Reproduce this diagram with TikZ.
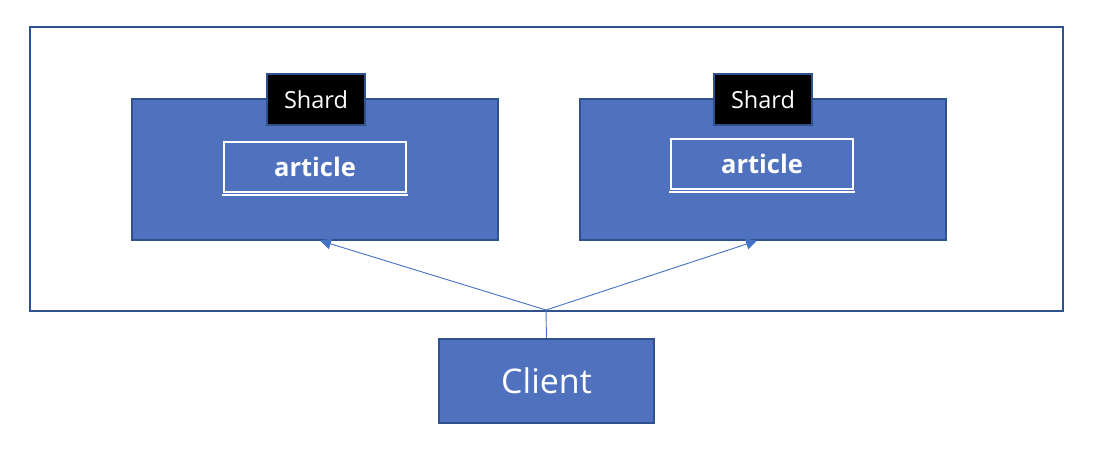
\documentclass[tikz,border=0pt]{standalone}
\usepackage{fontspec}
\setmainfont{Open Sans}
\usetikzlibrary{arrows.meta}
\definecolor{boxblue}{HTML}{4F71BE}
\definecolor{edgeblue}{HTML}{2F528F}
\definecolor{lineblue}{HTML}{4472C4}
\tikzset{
  shardbox/.style={draw=edgeblue, line width=1.2pt, fill=boxblue, minimum width=366pt, minimum height=141pt, inner sep=0pt},
  labelbox/.style={draw=edgeblue, line width=1.2pt, fill=black, text=white, minimum width=98pt, minimum height=51pt, inner sep=0pt, font=\fontsize{23.5}{28}\selectfont},
  artbox/.style={draw=white, line width=2pt, fill=boxblue, text=white, minimum width=182pt, minimum height=50pt, inner sep=0pt, font=\bfseries\fontsize{25.5}{30}\selectfont},
  clientbox/.style={draw=edgeblue, line width=1.2pt, fill=boxblue, text=white, minimum width=215pt, minimum height=84pt, inner sep=0pt, font=\fontsize{34}{40}\selectfont},
  conn/.style={draw=lineblue, line width=0.9pt},
  arr/.style={conn, -{Triangle[length=11pt,width=11pt]}},
}
\begin{document}
\begin{tikzpicture}[x=1pt,y=-1pt]
\useasboundingbox (0,0) rectangle (1096,448);
\node[draw=edgeblue, line width=1.8pt, minimum width=1033pt, minimum height=284pt, inner sep=0pt] (outer) at (546.5,169) {};
\node[shardbox] (s1) at (315,169.5) {};
\node[shardbox] (s2) at (763,169.5) {};
\node[labelbox] (l1) at (316,99.5) {Shard};
\node[labelbox] (l2) at (763,99.5) {Shard};
\node[artbox] (a1) at (315,167) {article};
\node[artbox] (a2) at (762,164) {article};
\draw[white, line width=2pt] ([xshift=-1pt,yshift=-1.5pt]a1.south west) -- ([xshift=1pt,yshift=-1.5pt]a1.south east);
\draw[white, line width=2pt] ([xshift=-1pt,yshift=-1.5pt]a2.south west) -- ([xshift=1pt,yshift=-1.5pt]a2.south east);
\node[clientbox] (c) at (546.5,381) {Client};
\coordinate (j) at (546,310);
\draw[conn] (c.north) -- (j);
\draw[arr] (j) -- (s1.south -| 320,0);
\draw[arr] (j) -- (s2.south -| 757,0);
\end{tikzpicture}
\end{document}
